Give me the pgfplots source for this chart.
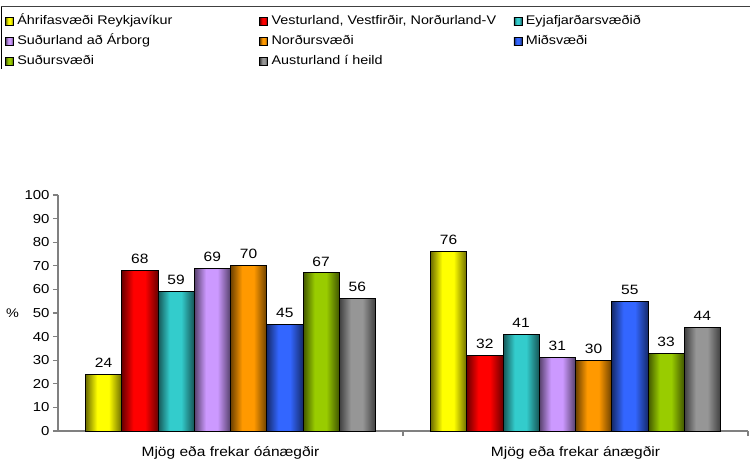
\documentclass[border=0pt]{standalone}
\usepackage{fontspec}
\setmainfont{Liberation Sans}[FakeStretch=1.15]
\usepackage{pgfplots}
\pgfplotsset{compat=1.18}

\definecolor{cYel}{HTML}{FFFF00}
\definecolor{cRed}{HTML}{FF0000}
\definecolor{cTeal}{HTML}{33CCCC}
\definecolor{cLav}{HTML}{CC99FF}
\definecolor{cOra}{HTML}{FF9900}
\definecolor{cBlu}{HTML}{3366FF}
\definecolor{cGre}{HTML}{99CC00}
\definecolor{cGra}{HTML}{969696}
\definecolor{axgray}{HTML}{808080}

% cylinder look: dark edges, flat bright middle (path fills 25bp..75bp)
\colorlet{barlc}{black}
\colorlet{barmc}{white}
\pgfdeclarehorizontalshading[barlc,barmc]{cyl}{100bp}{%
  color(0bp)=(barlc); color(25bp)=(barlc); color(41bp)=(barmc);
  color(57bp)=(barmc); color(75bp)=(barlc); color(100bp)=(barlc)}

% one bar per plot, so every bar gets its own shading
\pgfplotsset{bb/.style 2 args={ybar, bar width=36.25pt, bar shift=#2,
    draw=black, line width=0.8pt,
    /utils/exec={\colorlet{barlc}{#1!42!black}\colorlet{barmc}{#1}},
    shade, shading=cyl, shading angle=0,
    every node near coord/.append style={xshift=#2},
    legend image code/.code={\draw[draw=black, line width=0.7pt, fill=#1] (0pt,-4pt) rectangle (8pt,4pt);}}}

\newcommand{\legtxt}[1]{\makebox[238.5pt][l]{#1}}

\begin{document}
\begin{tikzpicture}
\useasboundingbox (-58pt,-28pt) rectangle (692pt,431pt);
\begin{axis}[
    scale only axis,
    width=690pt, height=236pt,
    xmin=-0.5, xmax=1.5, ymin=0, ymax=100,
    axis x line*=bottom, axis y line*=left,
    axis line style={draw=axgray, line width=1.3pt},
    tick align=outside, major tick length=5pt,
    tick style={draw=axgray, line width=1.3pt},
    ytick={0,10,...,100},
    xtick={0.5,1.5}, xticklabels={},
    extra x ticks={0,1},
    extra x tick labels={Mjög eða frekar óánægðir, Mjög eða frekar ánægðir},
    extra x tick style={major tick length=0pt,
        tick label style={font=\fontsize{13.5}{15}\selectfont, yshift=-12pt}},
    yticklabel style={font=\fontsize{13}{14}\selectfont},
    /pgf/number format/assume math mode=true,
    ylabel={\%},
    every axis y label/.style={at={(axis description cs:-0.066,0.5)},
        anchor=center, font=\fontsize{12.5}{14}\selectfont},
    nodes near coords,
    nodes near coords style={font=\fontsize{13.5}{15}\selectfont, anchor=south, yshift=3pt, color=black},
    legend columns=3,
    legend cell align=left,
    legend style={at={(axis description cs:-0.0826,1.7966)}, anchor=north west,
        draw=none, fill=none, inner sep=4pt, column sep=0pt,
        font=\fontsize{12.5}{14}\selectfont,
        nodes={inner xsep=3.5pt, inner ysep=4pt, text height=9pt, text depth=3pt}},
]
% Mjög eða frekar óánægðir
\addplot[bb={cYel}{-126.875pt}] coordinates {(0,24)};
\addlegendentry{\legtxt{Áhrifasvæði Reykjavíkur}}
\addplot[bb={cRed}{-90.625pt}] coordinates {(0,68)};
\addlegendentry{\legtxt{Vesturland, Vestfirðir, Norðurland-V}}
\addplot[bb={cTeal}{-54.375pt}] coordinates {(0,59)};
\addlegendentry{\legtxt{Eyjafjarðarsvæðið}}
\addplot[bb={cLav}{-18.125pt}] coordinates {(0,69)};
\addlegendentry{\legtxt{Suðurland að Árborg}}
\addplot[bb={cOra}{18.125pt}] coordinates {(0,70)};
\addlegendentry{\legtxt{Norðursvæði}}
\addplot[bb={cBlu}{54.375pt}] coordinates {(0,45)};
\addlegendentry{\legtxt{Miðsvæði}}
\addplot[bb={cGre}{90.625pt}] coordinates {(0,67)};
\addlegendentry{\legtxt{Suðursvæði}}
\addplot[bb={cGra}{126.875pt}] coordinates {(0,56)};
\addlegendentry{\legtxt{Austurland í heild}}
% Mjög eða frekar ánægðir
\addplot[forget plot, bb={cYel}{-126.875pt}] coordinates {(1,76)};
\addplot[forget plot, bb={cRed}{-90.625pt}] coordinates {(1,32)};
\addplot[forget plot, bb={cTeal}{-54.375pt}] coordinates {(1,41)};
\addplot[forget plot, bb={cLav}{-18.125pt}] coordinates {(1,31)};
\addplot[forget plot, bb={cOra}{18.125pt}] coordinates {(1,30)};
\addplot[forget plot, bb={cBlu}{54.375pt}] coordinates {(1,55)};
\addplot[forget plot, bb={cGre}{90.625pt}] coordinates {(1,33)};
\addplot[forget plot, bb={cGra}{126.875pt}] coordinates {(1,44)};
\end{axis}
% frame of the legend box (top and left edges)
\draw[black!75, line width=1pt] (-57pt,424pt) -- (700pt,424pt);
\draw[black, line width=0.6pt] (-57pt,424pt) -- (-57pt,362pt);
\end{tikzpicture}
\end{document}
